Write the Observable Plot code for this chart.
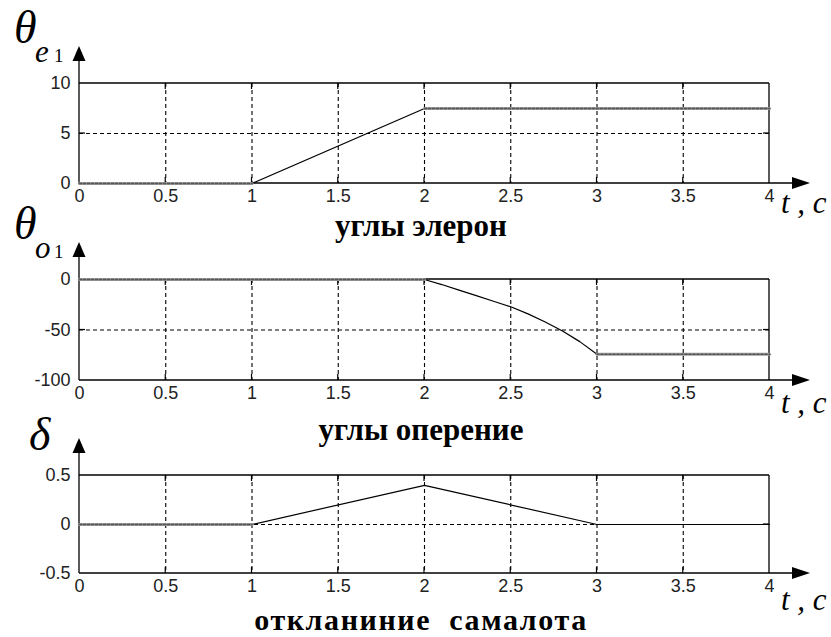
<!DOCTYPE html>
<html><head><meta charset="utf-8">
<script src="https://cdn.jsdelivr.net/npm/d3@7"></script>
<script src="https://cdn.jsdelivr.net/npm/@observablehq/plot@0.6"></script>
<style>
body{margin:0;background:#fff}
#wrap{position:relative;width:831px;height:637px;overflow:hidden;background:#fff}
.panel{position:absolute;left:0}
.panel svg{overflow:visible;background:transparent}
</style>
</head><body><div id="wrap"></div>
<script>
// ---- data ----
const timeTicks = [0, 0.5, 1, 1.5, 2, 2.5, 3, 3.5, 4];
const ailTicks = [0, 5, 10];
const tailTicks = [-100, -50, 0];
const deflTicks = [-0.5, 0, 0.5];

const ailTime  = [0, 1, 2, 4];
const ailAngle = [0, 0, 7.5, 7.5];

const tailTime  = [0, 2, 2.1, 2.2, 2.3, 2.4, 2.5, 2.6, 2.7, 2.8, 2.9, 3, 4];
const tailAngle = [0, 0, -5, -10.5, -16, -21.5, -27, -34, -42, -51, -61.5, -74, -74];

const deflTime  = [0, 1, 2, 3, 4];
const deflValue = [0, 0, 0.4, 0, 0];

const captions = ["углы элерон", "углы оперение", "откланиние  самалота"];
const timeLabel = "t , c";

// ---- panels ----
const panels = [
  {top: 0, domain: [0, 10], ticks: ailTicks, t: ailTime, v: ailAngle, holds: [[0,1],[2,4]],
   sym: "θ", sub: "e", subIdx: "1", capDy: 53, capSize: 31, capLS: 0, tDy: 30, mb: 62},
  {top: 196, domain: [-100, 0], ticks: tailTicks, t: tailTime, v: tailAngle, holds: [[0,2],[3,4]],
   sym: "θ", sub: "o", subIdx: "1", capDy: 60, capSize: 31, capLS: 0, tDy: 33, mb: 61},
  {top: 392, domain: [-0.5, 0.5], ticks: deflTicks, t: deflTime, v: deflValue, holds: [[0,1]],
   sym: "δ", sub: null, subIdx: null, capDy: 57, capSize: 30, capLS: 1.6, tDy: 37, mb: 64}
];

const wrap = document.getElementById("wrap");
const SERIF = "'Liberation Serif','Times New Roman',serif";
const SANS = "'Liberation Sans',Arial,sans-serif";

function decor(p, caption) {
  return (index, scales, values, dim) => {
    const L = dim.marginLeft, R = dim.width - dim.marginRight;
    const T = dim.marginTop, B = dim.height - dim.marginBottom;
    const x = scales.x, y = scales.y;
    const g = d3.create("svg:g");
    const line = (x1, y1, x2, y2, w = 1.3) => g.append("line")
      .attr("x1", x1).attr("y1", y1).attr("x2", x2).attr("y2", y2)
      .attr("stroke", "#000").attr("stroke-width", w);
    const text = (tx, ty, str, size, opts = {}) => g.append("text")
      .attr("x", tx).attr("y", ty)
      .style("font-family", SERIF)
      .style("font-size", size + "px")
      .style("font-style", opts.italic ? "italic" : "normal")
      .style("font-weight", opts.bold ? "bold" : "normal")
      .style("text-anchor", opts.anchor || "start")
      .style("letter-spacing", (opts.ls || 0) + "px")
      .style("white-space", "pre")
      .attr("fill", "#000")
      .text(str);
    // inward ticks
    timeTicks.slice(1, -1).forEach(t => { const xx = x(t); line(xx, B, xx, B - 6, 1.2); line(xx, T, xx, T + 6, 1.2); });
    p.ticks.slice(1, -1).forEach(v => { const yy = y(v); line(L, yy, L + 6, yy, 1.2); line(R, yy, R - 6, yy, 1.2); });
    // frame
    line(L, T, R, T);
    line(R, T, R, B);
    line(L, B, R + 24, B);
    line(L, B, L, T - 23);
    // arrowheads
    g.append("path").attr("d", `M${L},${T - 37}L${L - 6.5},${T - 22}L${L + 6.5},${T - 22}Z`).attr("fill", "#000");
    g.append("path").attr("d", `M${R + 41},${B}L${R + 23},${B - 6}L${R + 23},${B + 6}Z`).attr("fill", "#000");
    // axis symbols
    if (p.sub) {
      text(14, T - 40, p.sym, 46, {italic: true});
      text(35, T - 21, p.sub, 31, {italic: true});
      text(54, T - 21, p.subIdx, 19);
    } else {
      text(29, T - 25, p.sym, 46, {italic: true});
    }
    text(R + 12, B + p.tDy, timeLabel, 31, {italic: true});
    // caption
    text(x(2) - 3, B + p.capDy, caption, p.capSize, {bold: true, anchor: "middle", ls: p.capLS});
    return g.node();
  };
}

panels.forEach((p, i) => {
  const rows = p.t.map((t, k) => ({t, v: p.v[k]}));
  const holdRows = [];
  p.holds.forEach(([a, b], s) => rows.filter(r => r.t >= a && r.t <= b).forEach(r => holdRows.push({...r, seg: s})));
  const chart = Plot.plot({
    width: 831,
    height: 245,
    marginLeft: 79,
    marginRight: 62,
    marginTop: 83,
    marginBottom: p.mb,
    style: {overflow: "visible", background: "transparent"},
    x: {domain: [0, 4], axis: null},
    y: {domain: p.domain, axis: null},
    marks: [
      Plot.gridX(timeTicks.slice(1, -1), {stroke: "#000", strokeOpacity: 1, strokeWidth: 1.1, strokeDasharray: "4,3"}),
      Plot.gridY(p.ticks.slice(1, -1), {stroke: "#000", strokeOpacity: 1, strokeWidth: 1.1, strokeDasharray: "4,3"}),
      decor(p, captions[i]),
      Plot.line(rows, {x: "t", y: "v", stroke: "#000", strokeWidth: 1.2}),
      Plot.line(holdRows, {x: "t", y: "v", z: "seg", stroke: "#9a9a9a", strokeWidth: 3.2}),
      Plot.line(holdRows, {x: "t", y: "v", z: "seg", stroke: "#555", strokeWidth: 1.6, strokeDasharray: "2,2"}),
      Plot.axisX(timeTicks, {anchor: "bottom", tickSize: 0, tickPadding: 6, fontSize: 18, fontFamily: SANS, fill: "#222",
        tickFormat: d => String(d), label: null}),
      Plot.axisY(p.ticks, {anchor: "left", tickSize: 0, tickPadding: 9, fontSize: 18, fontFamily: SANS, fill: "#222",
        tickFormat: d => String(d), label: null})
    ]
  });
  const div = document.createElement("div");
  div.className = "panel";
  div.style.top = p.top + "px";
  div.appendChild(chart);
  wrap.appendChild(div);
});
</script>
</body></html>
